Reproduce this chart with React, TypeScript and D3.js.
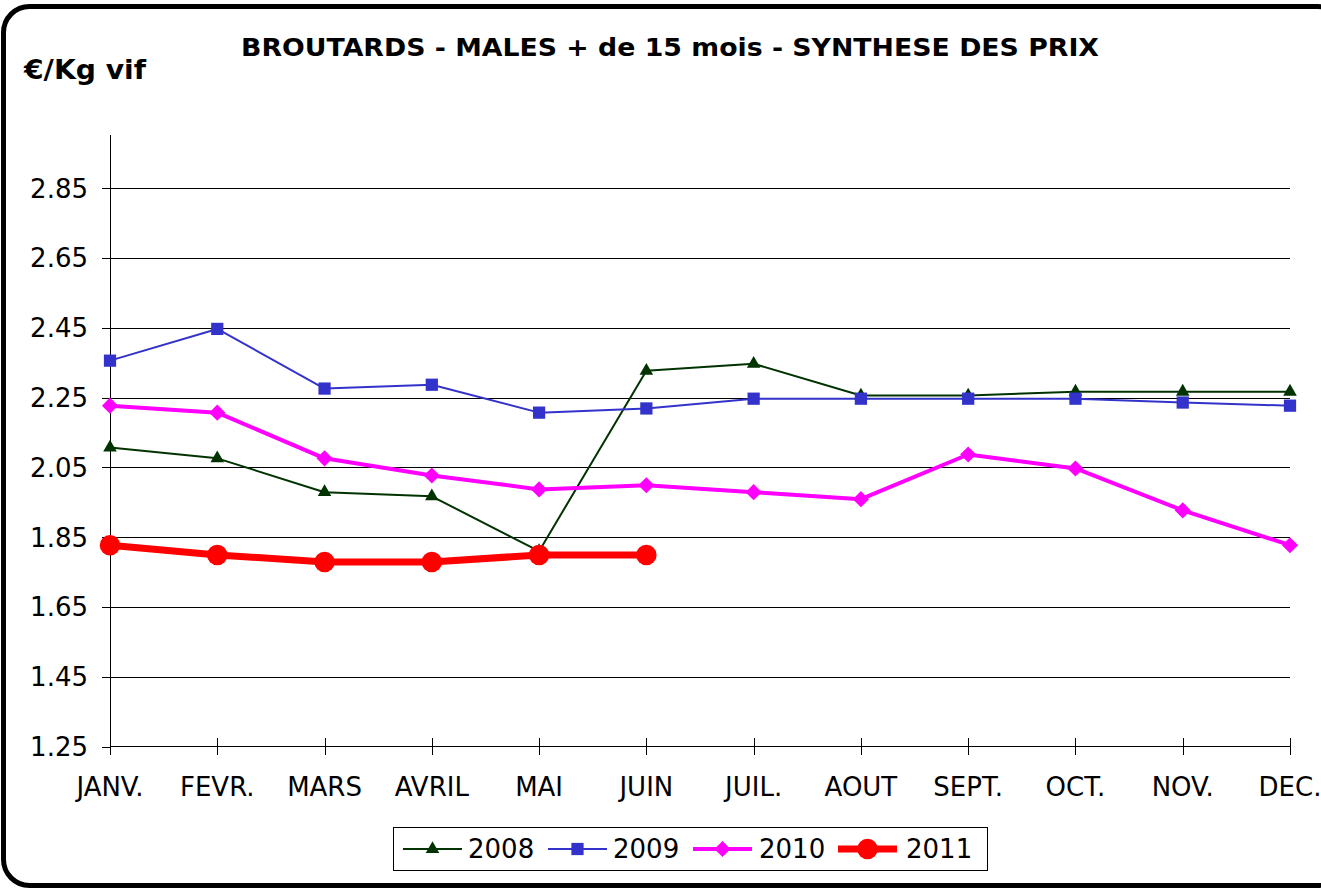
import React from "react";
import * as d3 from "d3";

const months = ["JANV.", "FEVR.", "MARS", "AVRIL", "MAI", "JUIN", "JUIL.", "AOUT", "SEPT.", "OCT.", "NOV.", "DEC."];
const yTicks = [1.25, 1.45, 1.65, 1.85, 2.05, 2.25, 2.45, 2.65, 2.85];
const values2008 = [2.107, 2.076, 1.979, 1.967, 1.81, 2.327, 2.347, 2.256, 2.256, 2.267, 2.267, 2.267];
const values2009 = [2.356, 2.447, 2.276, 2.287, 2.207, 2.219, 2.247, 2.247, 2.247, 2.247, 2.236, 2.227];
const values2010 = [2.227, 2.207, 2.076, 2.027, 1.987, 1.999, 1.979, 1.959, 2.087, 2.047, 1.927, 1.827];
const values2011 = [1.827, 1.799, 1.779, 1.779, 1.799, 1.799];

const seriesNames = ["2008", "2009", "2010", "2011"];

type Series = { name: string; values: number[]; color: string; width: number; marker: string; size: number };

const series: Series[] = [
  { name: seriesNames[0], values: values2008, color: "#003300", width: 2, marker: "triangle", size: 80 },
  { name: seriesNames[1], values: values2009, color: "#3333CC", width: 2, marker: "square", size: 150 },
  { name: seriesNames[2], values: values2010, color: "#FF00FF", width: 4, marker: "diamond", size: 130 },
  { name: seriesNames[3], values: values2011, color: "#FF0000", width: 7, marker: "circle", size: 330 },
];

const symbolFor = (m: string) =>
  m === "triangle" ? d3.symbolTriangle : m === "circle" ? d3.symbolCircle : d3.symbolSquare;

const markerPath = (s: Series) => d3.symbol().type(symbolFor(s.marker)).size(s.size)() || "";
const markerRot = (s: Series) => (s.marker === "diamond" ? " rotate(45)" : "");

const FONT = "'DejaVu Sans', Verdana, sans-serif";

export default function App() {
  const W = 1321, H = 888;
  const x = d3.scalePoint<string>().domain(months).range([110, 1290]);
  const y = d3.scaleLinear().domain([1.25, 3.0]).range([746.5, 136]);
  const line = d3.line<number>().x((_, i) => x(months[i]) as number).y((d) => y(d));

  const legendItems = [
    { lx: 403, tx: 468 },
    { lx: 548, tx: 613 },
    { lx: 693, tx: 759 },
    { lx: 838, tx: 906 },
  ];

  return (
    <svg width={W} height={H} style={{ position: "absolute", left: 0, top: 0, background: "#fff" }} fontFamily={FONT}>
      <rect x={3.5} y={6.5} width={1340} height={879} rx={26} ry={26} fill="#fff" stroke="#000" strokeWidth={5} />
      <text x={670} y={56} textAnchor="middle" fontWeight="bold" fontSize={25.5} textLength={858} lengthAdjust="spacingAndGlyphs">
        BROUTARDS - MALES + de 15 mois - SYNTHESE DES PRIX
      </text>
      <text x={24} y={79} fontWeight="bold" fontSize={27} textLength={122} lengthAdjust="spacingAndGlyphs">
        €/Kg vif
      </text>
      {yTicks.slice(1).map((t) => (
        <line key={t} x1={110} x2={1290} y1={Math.round(y(t)) + 0.5} y2={Math.round(y(t)) + 0.5} stroke="#000" strokeWidth={1} />
      ))}
      {yTicks.map((t) => (
        <g key={"yt" + t}>
          <line x1={102} x2={110} y1={Math.round(y(t)) + 0.5} y2={Math.round(y(t)) + 0.5} stroke="#000" />
          <text x={88} y={y(t)} dy="0.36em" textAnchor="end" fontSize={26}>
            {t.toFixed(2)}
          </text>
        </g>
      ))}
      <line x1={110.5} x2={110.5} y1={135} y2={747} stroke="#000" />
      <line x1={110} x2={1290} y1={746.5} y2={746.5} stroke="#000" />
      {months.map((m) => (
        <g key={m}>
          <line x1={Math.round(x(m) as number) + 0.5} x2={Math.round(x(m) as number) + 0.5} y1={738} y2={755} stroke="#000" />
          <text x={x(m) as number} y={796} textAnchor="middle" fontSize={26}>
            {m}
          </text>
        </g>
      ))}
      {series.map((s) => (
        <g key={s.name}>
          <path d={line(s.values) || ""} fill="none" stroke={s.color} strokeWidth={s.width} strokeLinejoin="round" />
          {s.values.map((v, i) => (
            <path key={i} transform={`translate(${x(months[i])},${y(v)})${markerRot(s)}`} d={markerPath(s)} fill={s.color} />
          ))}
        </g>
      ))}
      <rect x={393.5} y={827.5} width={594} height={43} fill="#fff" stroke="#000" strokeWidth={1} />
      {series.map((s, i) => (
        <g key={"lg" + s.name}>
          <line x1={legendItems[i].lx} x2={legendItems[i].lx + 59} y1={849} y2={849} stroke={s.color} strokeWidth={s.width} />
          <path transform={`translate(${legendItems[i].lx + 29.5},849)${markerRot(s)}`} d={markerPath(s)} fill={s.color} />
          <text x={legendItems[i].tx} y={849} dy="0.36em" fontSize={26}>
            {s.name}
          </text>
        </g>
      ))}
    </svg>
  );
}
